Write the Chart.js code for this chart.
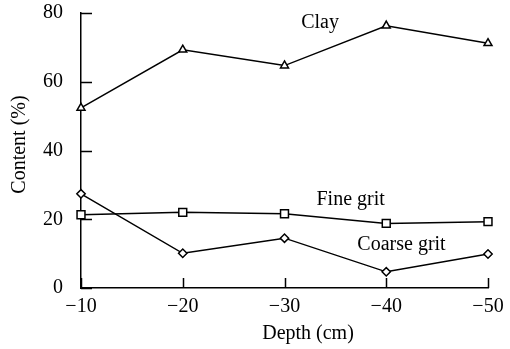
<!DOCTYPE html>
<html>
<head>
<meta charset="utf-8">
<script src="https://cdn.jsdelivr.net/npm/chart.js@4"></script>
<style>
  html, body { margin: 0; padding: 0; background: #fff; }
  #wrap { width: 510px; height: 349px; }
</style>
</head>
<body>
<div id="wrap"><canvas id="c" width="510" height="349"></canvas></div>
<script>
// Soil depth (cm) and particle content (%) per layer
const depths = ['\u221210', '\u221220', '\u221230', '\u221240', '\u221250'];
const clay = [52.4, 69.3, 64.7, 76.3, 71.2];
const fineGrit = [21.3, 22.0, 21.6, 18.8, 19.3];
const coarseGrit = [27.4, 10.1, 14.5, 4.7, 9.9];
const yTicks = [0, 20, 40, 60, 80];

const FONT = '"Liberation Serif", "Times New Roman", serif';
const INK = '#000';

// Series names placed beside their lines (x as category index, y in %)
const seriesNotes = [
  { text: 'Clay', x: 2.35, y: 77.2 },
  { text: 'Fine grit', x: 2.65, y: 25.8 },
  { text: 'Coarse grit', x: 3.15, y: 12.5 }
];

function series(label, data, style, radius) {
  return {
    label, data,
    borderColor: INK, borderWidth: 1.5,
    pointStyle: style, pointRadius: radius, pointHoverRadius: radius,
    pointBackgroundColor: '#fff', pointBorderColor: INK, pointBorderWidth: 1.5,
    tension: 0, fill: false
  };
}

// Inward tick marks, series notes and axis titles
const decor = {
  id: 'decor',
  afterDraw(chart) {
    const { ctx, chartArea: a, scales: { x, y } } = chart;
    ctx.save();
    ctx.strokeStyle = INK;
    ctx.lineWidth = 1.5;
    ctx.beginPath();
    yTicks.forEach(v => {
      const py = Math.round(y.getPixelForValue(v)) + 0.5;
      ctx.moveTo(a.left, py);
      ctx.lineTo(a.left + 11, py);
    });
    depths.forEach((d, i) => {
      const px = Math.round(x.getPixelForValue(i)) + 0.5;
      ctx.moveTo(px, a.bottom);
      ctx.lineTo(px, a.bottom - 10);
    });
    ctx.stroke();

    ctx.fillStyle = INK;
    ctx.font = '20px ' + FONT;
    ctx.textAlign = 'center';
    ctx.textBaseline = 'middle';
    seriesNotes.forEach(n => {
      ctx.fillText(n.text, x.getPixelForValue(n.x), y.getPixelForValue(n.y));
    });

    ctx.fillText('Depth (cm)', a.left + 227, a.bottom + 46);

    ctx.translate(20, (a.top + a.bottom) / 2 - 6);
    ctx.rotate(-Math.PI / 2);
    ctx.fillText('Content (%)', 0, 0);
    ctx.restore();
  }
};

new Chart(document.getElementById('c'), {
  type: 'line',
  data: {
    labels: depths,
    datasets: [
      series('Clay', clay, 'triangle', 4.6),
      series('Fine grit', fineGrit, 'rect', 5.6),
      series('Coarse grit', coarseGrit, 'rectRot', 4.2)
    ]
  },
  options: {
    responsive: false,
    animation: false,
    devicePixelRatio: 1,
    layout: { padding: { top: 13, right: 22, left: 0, bottom: 0 } },
    plugins: { legend: { display: false }, tooltip: { enabled: false } },
    scales: {
      x: {
        type: 'category',
        offset: false,
        grid: { display: true, drawOnChartArea: false, drawTicks: false },
        border: { display: true, color: INK, width: 1.5 },
        ticks: { color: INK, font: { family: FONT, size: 20 }, padding: 7, maxRotation: 0 },
        afterFit(s) { s.height = 61; s.paddingLeft = 0; s.paddingRight = 0; }
      },
      y: {
        min: 0, max: 80,
        grid: { display: true, drawOnChartArea: false, drawTicks: false },
        border: { display: true, color: INK, width: 1.5 },
        ticks: { color: INK, font: { family: FONT, size: 20 }, padding: 18, stepSize: 20 },
        afterFit(s) { s.width = 81; s.paddingTop = 0; s.paddingBottom = 0; }
      }
    }
  },
  plugins: [decor]
});
</script>
</body>
</html>
